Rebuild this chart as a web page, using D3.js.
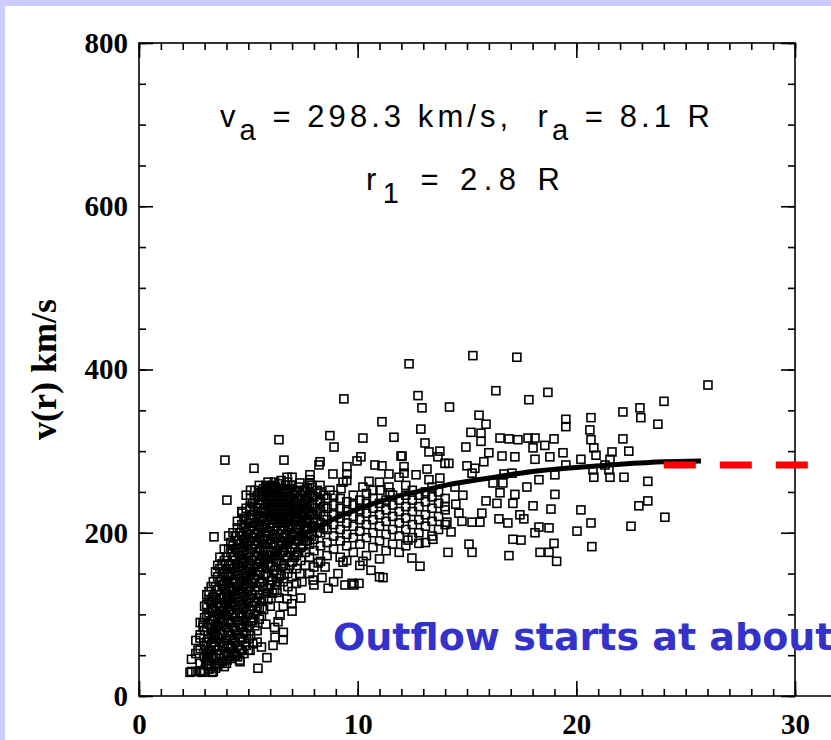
<!DOCTYPE html>
<html>
<head>
<meta charset="utf-8">
<script src="https://cdn.jsdelivr.net/npm/d3@7"></script>
<style>
  body { margin: 0; background: #ccccff; }
  svg { display: block; }
</style>
</head>
<body>
<div id="chart-area"></div>
<script>
// axis ticks
var xTicks = [0, 10, 20, 30];
var xMinorTicks = [0,1,2,3,4,5,6,7,8,9,10,11,12,13,14,15,16,17,18,19,20,21,22,23,24,25,26,27,28,29,30];
var yTicks = [0, 200, 400, 600, 800];
var yMinorTicks = [0,50,100,150,200,250,300,350,400,450,500,550,600,650,700,750,800];

// fitted curve
var fitR = [2.9, 3.0, 3.3, 3.6, 4, 4.5, 5, 5.5, 6, 7, 8, 9, 10, 11, 12, 13, 14, 16, 18, 20, 22, 24, 25.7];
var fitV = [33, 47, 73, 91, 111, 130, 146, 159, 170, 190, 205, 218, 229, 238, 246, 252, 258, 267, 275, 280, 284, 287, 288];

// red dashed extension
var extR = [24.0, 32.5];
var extV = [283, 283];

// scattered measurements (r, v)
var scatterOuter = [
  [12.35,407],[15.27,417],[17.28,415],[26.02,381],[9.37,364],[12.76,368],[12.94,353],[14.2,354],[11.11,336],[12.89,327],
  [6.40,314],[8.73,319],[10.24,316],[11.66,317],[8.92,305],[13.08,310],[13.26,299],[13.76,300],[3.93,289],[6.63,289],
  [5.26,279],[8.23,283],[9.51,281],[9.97,288],[10.15,293],[11.98,294],[13.67,293],[13.99,285],[10.79,283],[11.11,282],
  [12.12,281],[12.12,273],[8.87,272],[11.43,272],[11.89,268],[12.67,271],[7.00,268],[7.82,271],[7.82,265],[8.28,287],
  [9.51,272],[9.33,262],[10.52,263],[10.24,256],[10.70,252],[11.02,252],[11.43,256],[11.48,249],[13.26,265],[13.76,267],
  [4.02,240],[5.85,256],[6.22,256],[5.49,249],[4.71,224],[5.08,232],[6.77,268],[7.36,261],[7.91,258],[8.28,258],
  [8.73,252],[9.24,254],[13.99,232],[14.08,213],
  [16.32,374],[18.70,372],[17.83,363],[24.01,361],[22.91,353],[22.13,348],[22.95,341],[23.73,333],[15.55,344],[15.87,333],
  [19.52,339],[19.52,330],[20.67,341],[20.62,326],[15.18,323],[15.64,322],[15.64,312],[16.51,316],[16.92,315],[17.33,314],
  [17.79,316],[18.11,316],[18.98,315],[20.67,314],[22.13,315],[14.95,305],[16.00,298],[18.56,307],[18.02,304],[19.39,298],
  [20.80,304],[20.90,295],[21.63,299],[22.40,300],[12.03,294],[14.17,285],[15.77,287],[16.60,294],[17.19,293],[18.11,290],
  [18.79,293],[20.21,290],[21.54,290],[19.52,283],[21.31,283],[15.00,282],[15.36,279],[13.17,278],[15.23,273],[16.69,272],
  [17.06,273],[18.29,265],[19.02,271],[20.80,268],[21.54,268],[22.18,268],[23.27,263],[20.76,277],[21.49,277],[16.19,261],
  [16.64,261],[17.74,256],[14.45,256],[14.81,246],[16.51,249],[17.19,247],[19.02,247],[14.49,235],[15.87,239],[16.37,236],
  [17.10,236],[18.02,233],[18.84,229],[20.21,228],[22.86,233],[23.27,239],[24.05,219],[15.68,224],[15.59,213],[14.63,224],
  [14.77,214],[15.23,213],[16.46,217],[16.87,212],[17.42,222],[17.60,217],[20.67,212],[22.50,208],[18.29,207],[18.75,206],
  [18.11,200],[20.03,202],[14.27,201],[13.44,192],[12.80,187],[18.98,187],[20.71,183],[17.10,192],[17.47,191],[15.09,186],
  [15.23,176],[14.13,176],[18.34,176],[18.75,176],[16.92,172],[12.30,191],[12.48,169],[11.16,145],[9.83,136],[9.42,136],
  [12.85,159],[19.1,165]
];

var scatterEdge = [
  [3.43,195],[4.80,188],[4.34,170],[4.07,149],[4.71,164],[3.93,132],[3.38,121],[3.34,106],[2.93,90],[2.93,84],
  [2.79,71],[2.70,56],[2.33,29],[2.88,29],[3.34,29],[4.02,44],[4.62,42],[5.08,56],[5.44,34],[5.85,47],
  [5.40,66],[6.13,62],[6.59,69],[6.22,72],[6.45,99],[6.36,91],[6.99,113],[6.77,119],[6.31,127],[6.81,134],
  [6.31,140],[7.13,176],[7.36,150],[7.45,140],[7.96,142],[8.37,145],[8.65,132],[8.19,163],[8.51,158],[9.33,164],
  [9.10,150],[9.74,138],[10.06,138],[10.24,165],[10.61,154],[11.0,146]
];

// dense core, column by column: [r, [v ...]]
var scatterCore = [
  [2.4,[30,45]],[2.6,[30,52,68]],[2.8,[31,40,58,75,90]],[3.0,[30,48,62,80,96,110]],
  [3.2,[33,44,55,70,88,102,118,128]],[3.4,[30,50,66,78,94,108,121,140]],
  [3.6,[38,56,72,86,100,114,130,146,160]],[3.8,[42,60,76,92,104,120,136,150,162]],
  [4.0,[40,52,68,84,98,112,126,140,155,170]],[4.2,[46,60,74,90,106,118,132,148,160,176,188]],
  [4.4,[50,66,80,96,110,124,138,152,166,180,196]],[4.6,[44,58,72,88,102,116,130,144,158,172,186,200]],
  [4.8,[52,78,92,108,122,136,150,164,178,192,206,218]],[5.0,[56,70,86,100,114,128,142,156,170,184,198,212]],
  [5.2,[64,92,110,124,138,152,166,180,194,208,222,236]],[5.4,[80,104,120,134,148,162,176,190,204,218,230,245]],
  [5.6,[60,98,116,140,158,172,186,200,214,226,240,250]],[5.8,[88,126,150,168,182,196,210,224,236,248,258]],
  [6.0,[110,136,160,178,192,206,220,232,244,256]],[6.2,[84,130,154,172,188,202,216,228,240,252,262]],
  [6.4,[120,144,166,184,198,212,224,236,248,260]],[6.6,[78,110,140,160,178,194,208,220,232,244,254]],
  [6.8,[150,170,188,204,216,228,240,250,262]],[7.0,[104,128,146,164,182,198,210,222,234,246,258]],
  [7.2,[138,156,172,190,204,216,228,240,252]],[7.4,[120,166,182,196,210,222,234,246]],
  [7.6,[160,176,190,204,216,228,240,252]],[7.8,[150,170,186,198,212,224,236,248,260]],
  [8.0,[136,158,178,192,206,218,230,244]],[8.3,[165,184,200,212,226,238,250]],
  [8.6,[172,188,204,216,230,242]],[8.9,[140,180,196,210,222,234,246]],
  [9.2,[170,190,204,218,230,242]],[9.5,[166,184,198,212,226,238,264]],
  [9.8,[176,194,208,220,234,246]],[10.1,[160,186,202,216,228,240]],
  [10.4,[172,194,210,224,236,248]],[10.7,[182,200,216,230,242]],
  [11.0,[168,190,208,222,236,262]],[11.3,[178,198,214,228,240]],
  [11.6,[186,204,220,234,246]],[11.9,[176,196,212,226,240]],
  [12.2,[184,204,218,232,246,258]],[12.5,[194,210,226,240,252]],
  [12.8,[200,216,232,246]],[13.1,[188,208,222,238,250]],
  [13.4,[196,214,230,244,256]],[13.7,[204,220,236,250]],[14.0,[210,228,242]]
];

// the black band along the rise, between the columns above
var scatterBand = [
  [3.1,[38,52,66,84,98,112,124]],[3.3,[36,48,62,76,92,106,116,134]],
  [3.5,[34,46,60,74,88,104,118,134,152]],[3.7,[40,52,66,80,96,110,124,140,156,170]],
  [3.9,[36,50,64,80,94,108,122,138,152,166,180]],[4.1,[48,62,78,92,104,120,134,146,162,180,196]],
  [4.3,[54,70,84,100,114,128,142,156,170,184,200]],[4.5,[48,62,76,92,106,120,134,148,162,176,190,206,214]],
  [4.7,[56,70,84,98,112,126,140,154,168,182,196,210,226]],[4.9,[62,76,90,104,118,132,146,160,174,188,202,216,230,246]],
  [5.1,[74,90,106,120,134,148,162,176,190,204,216,228,242,252]],[5.3,[86,100,116,130,144,158,172,186,198,212,226,240,252]],
  [5.5,[94,108,124,138,152,166,180,194,208,220,234,246,258]],[5.7,[106,120,134,148,164,178,192,206,218,230,244,254]],
  [5.9,[118,132,146,162,176,190,202,216,228,240,252,262]],[6.1,[126,142,158,172,186,198,212,224,236,248,258]],
  [6.3,[136,150,164,178,194,208,220,232,244,254]],[6.5,[148,162,176,190,204,216,228,240,252,264]],
  [6.7,[156,172,186,198,212,224,236,248,258]],[6.9,[160,176,192,206,218,230,242,254]],
  [7.1,[170,186,200,214,226,238,250]],[7.3,[176,192,206,218,230,242,256]],
  [7.5,[184,198,212,224,236,250]],[7.7,[190,204,216,230,242,254]],
  [7.9,[196,208,222,234,246]],[8.15,[200,214,226,240,252]],[8.45,[206,220,232,246]]
];

var points = scatterOuter.concat(scatterEdge);
scatterCore.concat(scatterBand).forEach(function(c) {
    c[1].forEach(function(v) { points.push([c[0], v]); });
});

var W = 831, H = 740;
var svg = d3.select("#chart-area").append("svg")
    .attr("width", W)
    .attr("height", H);

// lavender frame and white page
svg.append("rect").attr("width", W).attr("height", H).attr("fill", "#ccccff");
svg.append("rect").attr("x", 5).attr("y", 6).attr("width", W - 5).attr("height", H - 6).attr("fill", "#fff");

var x = d3.scaleLinear().domain([0, 30]).range([139, 795]);
var y = d3.scaleLinear().domain([0, 800]).range([696, 43]);

var serif = "'Liberation Serif', 'Times New Roman', serif";
var sans = "'Liberation Sans', Arial, sans-serif";

function styleAxis(sel) {
    sel.select(".domain").remove();
    sel.selectAll("line").attr("stroke", "#000").attr("stroke-width", 1.6);
    sel.selectAll("text")
        .attr("fill", "#000")
        .attr("font-family", serif)
        .attr("font-weight", "bold")
        .attr("font-size", 29);
}

var g = svg.append("g");

// bottom axis
g.append("g").attr("transform", "translate(0," + y(0) + ")")
    .call(d3.axisBottom(x).tickValues(xMinorTicks).tickSize(-7).tickFormat(""))
    .call(styleAxis);
g.append("g").attr("transform", "translate(0," + y(0) + ")")
    .call(d3.axisBottom(x).tickValues(xTicks).tickSize(-15).tickPadding(17).tickFormat(d3.format("d")))
    .call(styleAxis);

// top axis
g.append("g").attr("transform", "translate(0," + y(800) + ")")
    .call(d3.axisTop(x).tickValues(xMinorTicks).tickSize(-7).tickFormat(""))
    .call(styleAxis);
g.append("g").attr("transform", "translate(0," + y(800) + ")")
    .call(d3.axisTop(x).tickValues(xTicks).tickSize(-15).tickFormat(""))
    .call(styleAxis);

// left axis
g.append("g").attr("transform", "translate(" + x(0) + ",0)")
    .call(d3.axisLeft(y).tickValues(yMinorTicks).tickSize(-7).tickFormat(""))
    .call(styleAxis);
g.append("g").attr("transform", "translate(" + x(0) + ",0)")
    .call(d3.axisLeft(y).tickValues(yTicks).tickSize(-14).tickPadding(11).tickFormat(d3.format("d")))
    .call(styleAxis);

// right axis
g.append("g").attr("transform", "translate(" + x(30) + ",0)")
    .call(d3.axisRight(y).tickValues(yMinorTicks).tickSize(-7).tickFormat(""))
    .call(styleAxis);
g.append("g").attr("transform", "translate(" + x(30) + ",0)")
    .call(d3.axisRight(y).tickValues(yTicks).tickSize(-14).tickFormat(""))
    .call(styleAxis);

// frame
g.append("rect")
    .attr("x", x(0)).attr("y", y(800))
    .attr("width", x(30) - x(0)).attr("height", y(0) - y(800))
    .attr("fill", "none").attr("stroke", "#000").attr("stroke-width", 1.6);

// line of the next panel along the baseline
g.append("line")
    .attr("x1", x(30)).attr("x2", W)
    .attr("y1", y(0)).attr("y2", y(0))
    .attr("stroke", "#000").attr("stroke-width", 1.6);

// y label
g.append("text")
    .attr("transform", "translate(56," + (y(0) + y(800)) / 2 + ") rotate(-90)")
    .attr("text-anchor", "middle")
    .attr("font-family", serif)
    .attr("font-weight", "bold")
    .attr("font-size", 36)
    .text("v(r) km/s");

// scatter squares
var s = 8;
g.append("g").selectAll("rect")
    .data(points)
    .enter().append("rect")
    .attr("x", function(d) { return x(d[0]) - s / 2; })
    .attr("y", function(d) { return y(d[1]) - s / 2; })
    .attr("width", s).attr("height", s)
    .attr("fill", "none")
    .attr("stroke", "#000")
    .attr("stroke-width", 1.6);

// fitted curve
var line = d3.line()
    .x(function(d) { return x(d[0]); })
    .y(function(d) { return y(d[1]); })
    .curve(d3.curveMonotoneX);

g.append("path")
    .datum(fitR.map(function(r, i) { return [r, fitV[i]]; }))
    .attr("fill", "none")
    .attr("stroke", "#000")
    .attr("stroke-width", 5)
    .attr("d", line);

// red dashed extension
g.append("path")
    .datum(extR.map(function(r, i) { return [r, extV[i]]; }))
    .attr("fill", "none")
    .attr("stroke", "#ff0000")
    .attr("stroke-width", 7)
    .attr("stroke-dasharray", "32,24")
    .attr("d", line);

// fit parameters
var t1 = g.append("text")
    .attr("x", 220).attr("y", 127)
    .attr("font-family", sans)
    .attr("font-size", 31)
    .attr("textLength", 490)
    .attr("lengthAdjust", "spacing")
    .style("white-space", "pre");
t1.append("tspan").text("v");
t1.append("tspan").attr("dy", 13).attr("font-size", 29).text("a");
t1.append("tspan").attr("dy", -13).text(" = 298.3 km/s,  r");
t1.append("tspan").attr("dy", 13).attr("font-size", 29).text("a");
t1.append("tspan").attr("dy", -13).text(" = 8.1 R");

var t2 = g.append("text")
    .attr("x", 366).attr("y", 190)
    .attr("font-family", sans)
    .attr("font-size", 31)
    .attr("textLength", 194)
    .attr("lengthAdjust", "spacing")
    .style("white-space", "pre");
t2.append("tspan").text("r");
t2.append("tspan").attr("dy", 13).attr("font-size", 29).text("1");
t2.append("tspan").attr("dy", -13).text(" = 2.8 R");

// overlay note
g.append("text")
    .attr("x", 333).attr("y", 650)
    .attr("font-family", "'DejaVu Sans', Verdana, sans-serif")
    .attr("font-weight", "bold")
    .attr("font-size", 38)
    .attr("fill", "#3333cc")
    .text("Outflow starts at about");
</script>
</body>
</html>
